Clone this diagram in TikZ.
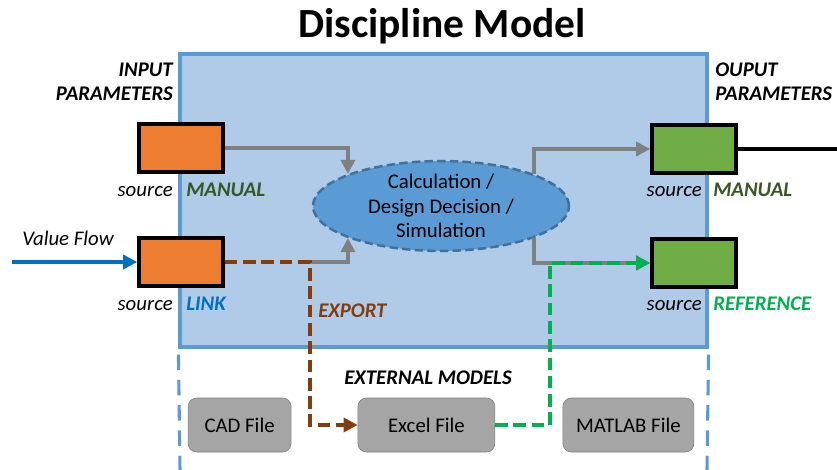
\documentclass[tikz,border=0pt]{standalone}
\usepackage{fontspec}
\setmainfont{Carlito}
\usetikzlibrary{arrows.meta, positioning, shapes.geometric, calc}
\definecolor{modelblue}{RGB}{91, 155, 213}
\definecolor{modelfill}{RGB}{175, 203, 232}
\definecolor{modeledge}{RGB}{65, 113, 156}
\definecolor{paramorange}{RGB}{237, 125, 49}
\definecolor{paramgreen}{RGB}{112, 173, 71}
\definecolor{manualgreen}{RGB}{56, 87, 35}
\definecolor{linkblue}{RGB}{0, 112, 192}
\definecolor{refgreen}{RGB}{0, 176, 80}
\definecolor{exportbrown}{RGB}{132, 60, 12}
\definecolor{flowgray}{RGB}{128, 128, 128}
\definecolor{filegray}{RGB}{165, 165, 165}
\definecolor{fileedge}{RGB}{127, 127, 127}

\begin{document}
\begin{tikzpicture}[
      txt/.style={inner sep=0, font=\fontsize{14.8}{17}\selectfont},
      lbl/.style={txt, font=\fontsize{14.8}{17}\selectfont\itshape},
      tag/.style={txt, font=\fontsize{14.8}{17}\selectfont\bfseries\itshape},
      param/.style={rectangle, draw=black, line width=2.6pt, minimum width=2.1cm, minimum height=1.2cm},
      filebox/.style={rectangle, rounded corners=6pt, draw=fileedge, fill=filegray, minimum height=1.35cm, font=\fontsize{14.8}{17}\selectfont},
      flow/.style={-{Triangle[length=10pt, width=10pt]}, line width=2.4pt, flowgray},
      arr/.style={-{Triangle[length=10pt, width=10pt]}, line width=2.4pt}
    ]
      \useasboundingbox (0,0) rectangle (20.925,-11.75);

      \node[font=\fontsize{29.5}{34}\selectfont\bfseries, anchor=base] (title) at (11.05,-0.95) {Discipline Model};

      \node[rectangle, draw=modelblue, fill=modelfill, line width=2.2pt, minimum width=13.175cm, minimum height=7.325cm] (model) at (11.0875,-5.0125) {};
      \draw[modelblue, line width=2.2pt, dash pattern=on 11pt off 7pt] ($(model.south west)+(0,-0.15)$) -- (4.5,-11.75);
      \draw[modelblue, line width=2.2pt, dash pattern=on 11pt off 7pt] ($(model.south east)+(0,-0.15)$) -- (17.675,-11.75);

      \node[txt, font=\fontsize{14.8}{17}\selectfont\bfseries\itshape, align=right, anchor=north east] (inlbl) at (4.325,-1.575) {INPUT\\PARAMETERS};
      \node[txt, font=\fontsize{14.8}{17}\selectfont\bfseries\itshape, align=left, anchor=north west] (outlbl) at (17.875,-1.575) {OUPUT\\PARAMETERS};

      \node[param, fill=paramorange] (in1) at (4.525,-3.7) {};
      \node[param, fill=paramorange] (in2) at (4.525,-6.55) {};
      \node[param, fill=paramgreen] (out1) at (17.35,-3.725) {};
      \node[param, fill=paramgreen] (out2) at (17.35,-6.575) {};

      \node[lbl, anchor=base east] (src1) at (4.325,-4.9) {source};
      \node[tag, manualgreen, anchor=base west] (tag1) at (4.65,-4.9) {MANUAL};
      \node[lbl, anchor=base east] (src2) at (4.325,-7.75) {source};
      \node[tag, linkblue, anchor=base west] (tag2) at (4.65,-7.75) {LINK};
      \node[lbl, anchor=base east] (src3) at (17.55,-4.9) {source};
      \node[tag, manualgreen, anchor=base west] (tag3) at (17.825,-4.9) {MANUAL};
      \node[lbl, anchor=base east] (src4) at (17.55,-7.75) {source};
      \node[tag, refgreen, anchor=base west] (tag4) at (17.825,-7.75) {REFERENCE};

      \node[ellipse, draw=modeledge, fill=modelblue, line width=1.8pt, dash pattern=on 6pt off 3pt, minimum width=6.4cm, minimum height=2.2cm, inner sep=0, align=center, font=\fontsize{14.8}{17.4}\selectfont] (calc) at (11.025,-5.15) {Calculation /\\Design Decision /\\Simulation};

      \node[filebox, minimum width=2.575cm] (cad) at (5.99,-10.625) {CAD File};
      \node[filebox, minimum width=3.425cm] (excel) at (10.66,-10.625) {Excel File};
      \node[filebox, minimum width=3.275cm] (matlab) at (15.71,-10.625) {MATLAB File};

      \node[lbl, anchor=base west] (vflow) at (0.55,-6.125) {Value Flow};
      \node[tag, exportbrown, anchor=base west] (export) at (7.95,-7.925) {EXPORT};
      \node[tag, anchor=base] (extlbl) at (10.7,-9.6) {EXTERNAL MODELS};

      \coordinate (vfin) at (0.3,-6.55);
      \coordinate (brk) at (7.75,-6.55);
      \coordinate (rbrk) at (13.75,-6.575);
      \coordinate (outend) at (20.925,-3.725);

      \draw[arr, linkblue] (vfin) -- (in2.west);
      \draw[line width=2.4pt] (out1.east) -- (outend);

      \draw[flow] (in1.east) -| (calc.161);
      \draw[flow] (brk) -| (calc.-161);
      \draw[flow] (calc.19) |- (out1.west);
      \draw[flow] (calc.-19) |- (out2.west);

      \draw[arr, exportbrown, dash pattern=on 9pt off 4pt] (in2.east) -- (brk) |- (excel.west);
      \draw[arr, refgreen, dash pattern=on 9pt off 4pt] (excel.east) -| (rbrk) -- (out2.west);
    \end{tikzpicture}
\end{document}
